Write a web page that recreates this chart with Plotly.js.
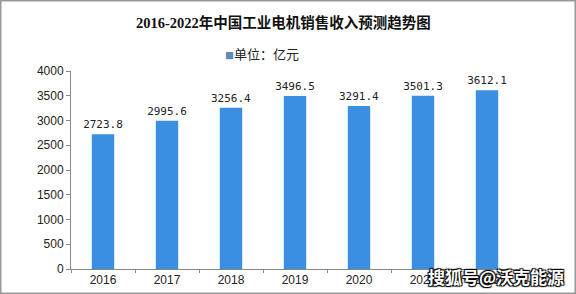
<!DOCTYPE html>
<html><head><meta charset="utf-8">
<script src="https://cdn.plot.ly/plotly-3.0.1.min.js"></script>
<style>html,body{margin:0;padding:0;background:#fff;}#chart{width:576px;height:294px;}</style>
</head><body><div id="chart"></div>
<script>
const years = ['2016','2017','2018','2019','2020','2021','2022'];
const revenue = [2723.8, 2995.6, 3256.4, 3496.5, 3291.4, 3501.3, 3612.1];
const labels = ['2723.8','2995.6','3256.4','3496.5','3291.4','3501.3','3612.1'];
const titleText = '2016-2022年中国工业电机销售收入预测趋势图';
const seriesName = '单位：亿元';
const yTicks = [0,500,1000,1500,2000,2500,3000,3500,4000];

const bars = {
  type: 'bar', x: years, y: revenue, name: seriesName,
  text: labels, textposition: 'outside', cliponaxis: false, constraintext: 'none',
  textfont: {family: 'DejaVu Sans Mono, monospace', size: 11, color: '#222'},
  marker: {color: '#3a8fe3'}, width: 0.35, showlegend: false
};
const layout = {
  width: 576, height: 294,
  margin: {l: 71, r: 57, t: 71, b: 25},
  paper_bgcolor: '#fff', plot_bgcolor: '#fff',
  title: {text: '<b>' + titleText + '</b>', x: 0.492, xanchor: 'center', y: 0.922, yanchor: 'middle',
    font: {family: 'Liberation Serif, Noto Sans CJK SC, serif', size: 14.5, color: '#111'}},
  showlegend: false,
  xaxis: {type: 'category', showgrid: false, showline: true, linecolor: '#888', linewidth: 1,
    ticks: 'outside', tickson: 'boundaries', ticklen: 3, tickcolor: '#888',
    tickfont: {family: 'Liberation Sans, Arial', size: 12, color: '#222'}},
  yaxis: {range: [0, 4000], tickvals: yTicks, showgrid: false, showline: true, linecolor: '#888',
    ticks: 'outside', ticklen: 4, tickcolor: '#888', zeroline: false,
    tickfont: {family: 'Liberation Sans, Arial', size: 12, color: '#222'}},
  shapes: [{type: 'rect', xref: 'paper', yref: 'paper', x0: -0.1585, x1: 1.1272, y0: -0.1263, y1: 1.3586,
    line: {color: '#999', width: 3}, fillcolor: 'rgba(0,0,0,0)'}],
  annotations: [
    {text: '<span style="color:#5b8db3;font-size:9px">■</span>' + seriesName, xref: 'paper', yref: 'paper',
     x: 0.426, y: 1.09, xanchor: 'center', yanchor: 'middle', showarrow: false,
     font: {family: 'Noto Sans CJK SC', size: 13, color: '#222'}},
    {text: '搜狐号@沃克能源', xref: 'paper', yref: 'paper', x: 1.105, y: -0.04,
    xanchor: 'right', yanchor: 'middle', showarrow: false,
    font: {family: 'Noto Sans CJK SC', size: 17, color: '#fff', weight: 700, shadow: '1px 1px 1px #000, -1px -1px 1px #000, 1px -1px 1px #000, -1px 1px 1px #000'}}]
};
Plotly.newPlot('chart', [bars], layout, {displayModeBar: false, staticPlot: true});
</script></body></html>
